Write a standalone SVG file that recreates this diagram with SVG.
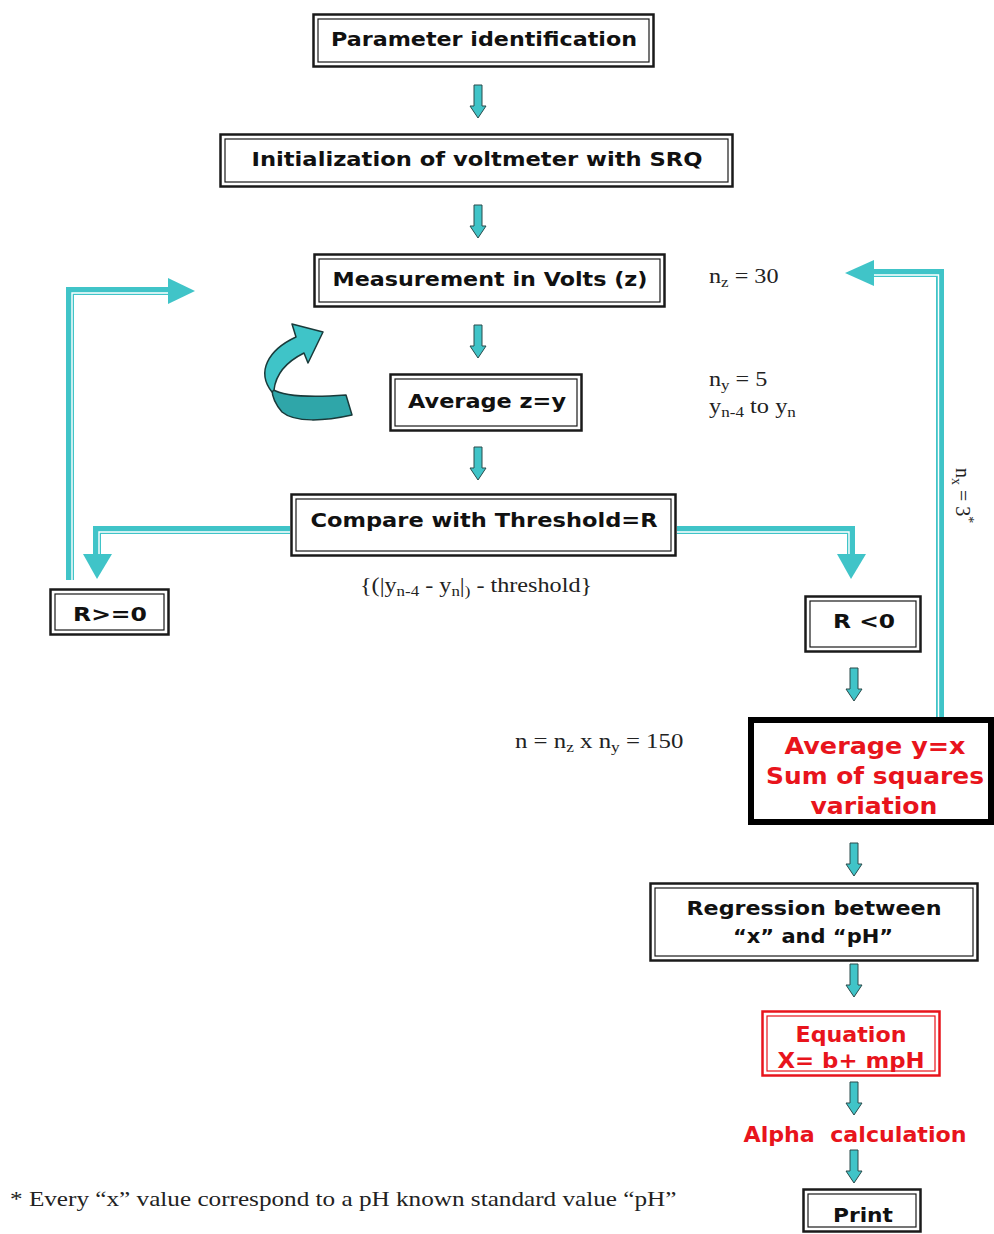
<svg xmlns="http://www.w3.org/2000/svg" width="994" height="1234" viewBox="0 0 994 1234">
<defs>
<style>
.o{fill:#fff;stroke:#1a1a1a;stroke-width:2.5}
.i{fill:none;stroke:#1a1a1a;stroke-width:1.2}
.ro{fill:#fff;stroke:#e8141c;stroke-width:2.5}
.ri{fill:none;stroke:#e8141c;stroke-width:1.2}
.t{font-family:"DejaVu Sans",Verdana,sans-serif;font-weight:bold;font-size:20px;fill:#111;text-anchor:middle}
.r{font-family:"DejaVu Sans",Verdana,sans-serif;font-weight:bold;font-size:23px;fill:#e8141c;text-anchor:middle}
.r2{font-size:21px}
.s{font-family:"Liberation Serif","Times New Roman",serif;font-size:20px;fill:#222}
.sub{font-size:14px}
.c{fill:none;stroke:#40c4c8;stroke-width:8}
.w{fill:none;stroke:#fff;stroke-width:1.4}
.h{fill:#40c4c8}
.da{fill:#40c4c8;stroke:#2a4a4a;stroke-width:1}
</style>
<path id="dn" d="M -4 0 H 4 V 21 H 8 L 0 33 L -8 21 H -4 Z"/>
</defs>
<rect width="994" height="1234" fill="#fff"/>

<g id="connectors">
<!-- left loop -->
<path class="c" d="M 70 580 V 291 H 170"/>
<path class="w" d="M 72 580 V 293 H 170"/>
<polygon class="h" points="168,278 195,291 168,304"/>
<!-- right loop -->
<path class="c" d="M 940 717 V 273 H 872"/>
<path class="w" d="M 938.5 717 V 275 H 872"/>
<polygon class="h" points="874,260 845,273 874,286"/>
<!-- compare left -->
<path class="c" d="M 290 530 H 97 V 556"/>
<path class="w" d="M 290 532 H 99 V 556"/>
<polygon class="h" points="83,554 112,554 97,579"/>
<!-- compare right -->
<path class="c" d="M 677 530 H 851 V 556"/>
<path class="w" d="M 677 532 H 849 V 556"/>
<polygon class="h" points="837,554 866,554 851,579"/>
<!-- small down arrows -->
<use href="#dn" class="da" x="478" y="85"/>
<use href="#dn" class="da" x="478" y="205"/>
<use href="#dn" class="da" x="478" y="325"/>
<use href="#dn" class="da" x="478" y="447"/>
<use href="#dn" class="da" x="854" y="668"/>
<use href="#dn" class="da" x="854" y="843"/>
<use href="#dn" class="da" x="854" y="964"/>
<use href="#dn" class="da" x="854" y="1082"/>
<use href="#dn" class="da" x="854" y="1150"/>
<!-- curved arrow -->
<g stroke="#1a3a3a" stroke-width="1.5" stroke-linejoin="round">
<path fill="#2fa6a9" d="M 272 389 C 286 398, 320 397, 346 395 L 352 415 C 325 421, 295 423, 282 412 C 276 405, 272 397, 272 389 Z"/>
<path fill="#3fc4c8" d="M 272 392 C 256 372, 268 350, 296 337 L 292 324 L 323 332 L 308 363 L 304 353 C 290 360, 276 372, 274 390 Z"/>
</g>
</g>

<g id="n1"><rect class="o" x="313.5" y="14.5" width="340" height="52"/><rect class="i" x="318" y="19" width="331" height="43"/><text class="t" x="484" y="46" textLength="306" lengthAdjust="spacingAndGlyphs">Parameter identification</text></g>
<g id="n2"><rect class="o" x="220.5" y="134.5" width="512" height="52"/><rect class="i" x="225" y="139" width="503" height="43"/><text class="t" x="477" y="166" textLength="451" lengthAdjust="spacingAndGlyphs">Initialization of voltmeter with SRQ</text></g>
<g id="n3"><rect class="o" x="314.5" y="254.5" width="350" height="52"/><rect class="i" x="319" y="259" width="341" height="43"/><text class="t" x="490" y="286" textLength="315" lengthAdjust="spacingAndGlyphs">Measurement in Volts (z)</text></g>
<g id="n4"><rect class="o" x="390.5" y="374.5" width="191" height="56"/><rect class="i" x="395" y="379" width="182" height="47"/><text class="t" x="487" y="408" textLength="158" lengthAdjust="spacingAndGlyphs">Average z=y</text></g>
<g id="n5"><rect class="o" x="291.5" y="494.5" width="384" height="61"/><rect class="i" x="296" y="499" width="375" height="52"/><text class="t" x="484" y="527" textLength="347" lengthAdjust="spacingAndGlyphs">Compare with Threshold=R</text></g>
<g id="n6"><rect class="o" x="50.5" y="589.5" width="118" height="45"/><rect class="i" x="55" y="594" width="109" height="36"/><text class="t" x="110" y="621" textLength="74" lengthAdjust="spacingAndGlyphs">R&gt;=0</text></g>
<g id="n7"><rect class="o" x="805.5" y="596.5" width="115" height="55"/><rect class="i" x="810" y="601" width="106" height="46"/><text class="t" x="864" y="628" textLength="62" lengthAdjust="spacingAndGlyphs">R &lt;0</text></g>
<g id="n8"><rect x="751" y="720" width="240" height="102" fill="#fff" stroke="#000" stroke-width="6"/>
<text class="r" x="875" y="754" textLength="181" lengthAdjust="spacingAndGlyphs">Average y=x</text><text class="r" x="875" y="784" textLength="218" lengthAdjust="spacingAndGlyphs">Sum of squares</text><text class="r" x="874" y="814" textLength="127" lengthAdjust="spacingAndGlyphs">variation</text></g>
<g id="n9"><rect class="o" x="650.5" y="883.5" width="327" height="77"/><rect class="i" x="655" y="888" width="318" height="68"/><text class="t" x="814" y="915" textLength="255" lengthAdjust="spacingAndGlyphs">Regression between</text><text class="t" x="813" y="943" textLength="160" lengthAdjust="spacingAndGlyphs">“x” and “pH”</text></g>
<g id="n10"><rect class="ro" x="762.5" y="1011.5" width="177" height="64"/><rect class="ri" x="767" y="1016" width="168" height="55"/><text class="r r2" x="851" y="1042" textLength="111" lengthAdjust="spacingAndGlyphs">Equation</text><text class="r r2" x="851" y="1068" textLength="147" lengthAdjust="spacingAndGlyphs">X= b+ mpH</text></g>
<g id="n11"><text class="r r2" x="855" y="1142" xml:space="preserve" textLength="223" lengthAdjust="spacingAndGlyphs">Alpha  calculation</text></g>
<g id="n12"><rect class="o" x="803.5" y="1189.5" width="117" height="42"/><rect class="i" x="808" y="1194" width="108" height="33"/><text class="t" x="863" y="1222" textLength="60" lengthAdjust="spacingAndGlyphs">Print</text></g>

<g id="notes">
<text class="s" transform="translate(709 283) scale(1.21 1)">n<tspan class="sub" dy="4">z</tspan><tspan dy="-4"> = 30</tspan></text>
<text class="s" transform="translate(709 386) scale(1.21 1)">n<tspan class="sub" dy="4">y</tspan><tspan dy="-4"> = 5</tspan></text>
<text class="s" transform="translate(709 413) scale(1.22 1)">y<tspan class="sub" dy="4">n-4</tspan><tspan dy="-4"> to y</tspan><tspan class="sub" dy="4">n</tspan></text>
<text class="s" transform="translate(360 592) scale(1.21 1)">{(|y<tspan class="sub" dy="4">n-4</tspan><tspan dy="-4"> - y</tspan><tspan class="sub" dy="4">n</tspan><tspan dy="-4">|</tspan><tspan class="sub" dy="4">)</tspan><tspan dy="-4"> - threshold}</tspan></text>
<text class="s" transform="translate(515 748) scale(1.24 1)">n = n<tspan class="sub" dy="4">z</tspan><tspan dy="-4"> x n</tspan><tspan class="sub" dy="4">y</tspan><tspan dy="-4"> = 150</tspan></text>
<text class="s" transform="translate(956 468) rotate(90)">n<tspan class="sub" dy="4">x</tspan><tspan dy="-4"> = 3</tspan><tspan class="sub" dy="-8">*</tspan></text>
<text class="s" transform="translate(10 1206) scale(1.26 1)">* Every “x” value correspond to a pH known standard value “pH”</text>
</g>
</svg>
